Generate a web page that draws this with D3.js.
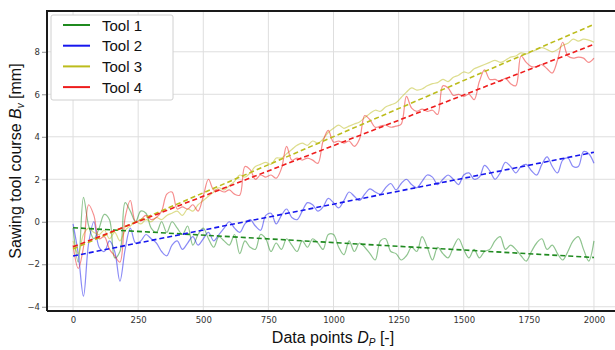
<!DOCTYPE html>
<html>
<head>
<meta charset="utf-8">
<script src="https://cdnjs.cloudflare.com/ajax/libs/d3/7.8.5/d3.min.js"></script>
<style>
  body { margin: 0; background: #fff; }
  svg { display: block; }
</style>
</head>
<body>
<svg id="chart" width="615" height="350"></svg>
<script>
// samples, one every 20 data points (0..2000)
var step = 20;

var tool1 = [-0.3, -1.9, 1.15, -0.2, -0.8, -0.3, 0.35, 0.1, -1.7, -1.4,
  0.9, 0.5, 0.0, 0.5, 0.4, -0.3, -0.5, 0.0, -0.5, 0.0,
  -0.3, -0.6, -0.2, -1.1, -0.6, -0.3, -0.8, -1.2, -0.7, -0.9,
  -1.1, -0.6, -1.5, -0.9, -1.2, -1.3, -0.6, -0.8, -1.4, -1.0,
  -1.3, -0.8, -1.1, -1.4, -0.9, -1.2, -0.8, -1.0, -1.3, -0.6,
  -0.6, -1.2, -1.55, -0.9, -1.4, -1.0, -1.2, -1.5, -1.8, -0.9,
  -0.8, -1.4, -1.5, -1.8, -1.6, -1.2, -1.4, -0.7, -1.2, -1.8,
  -1.2, -1.5, -1.7, -1.2, -0.8, -1.3, -1.7, -1.3, -1.7, -1.4,
  -1.3, -0.9, -0.7, -1.3, -1.1, -1.3, -1.6, -1.85, -1.4, -1.0,
  -0.8, -1.3, -1.1, -1.5, -1.8, -1.4, -0.9, -0.7, -1.3, -1.85,
  -0.9];

var tool2 = [-0.1, -1.5, -3.5, -1.0, 0.0, -1.2, -1.4, -0.9, -1.4, -2.8,
  -1.3, -0.3, -1.0, -0.9, -0.6, -0.8, -1.0, -1.4, -1.6, -1.1,
  -0.9, -1.3, -1.0, -0.7, -1.1, -0.8, -0.5, -0.9, -0.6, -0.3,
  0.0, -0.3, -0.5, -0.1, 0.1, -0.2, -0.4, 0.3, 0.4, -0.1,
  0.3, 0.6, 0.2, 0.1, 0.5, 0.9, 0.8, 0.5, 0.7, 1.1,
  0.9, 0.65, 1.0, 1.4, 1.2, 1.0, 1.3, 1.55, 1.4, 1.3,
  1.6, 1.8, 1.5, 1.8, 2.0, 1.75, 1.6, 1.9, 2.2, 2.1,
  1.75, 2.0, 2.2, 2.0, 1.75, 2.2, 2.3, 2.0, 2.1, 2.65,
  2.4, 2.0, 2.3, 2.8, 2.6, 2.3, 2.6, 2.7, 2.4, 2.2,
  2.7, 3.05, 2.6, 2.3, 2.9, 3.0, 2.6, 2.6, 3.3, 3.2,
  2.75];

var tool3 = [-0.9, -1.5, -0.6, -0.3, -0.5, -0.6, -0.4, -0.8, -0.5, -0.9,
  -0.4, -0.2, 0.0, -0.1, 0.1, 0.0, 0.2, 0.1, 0.3, 0.4,
  0.5, 0.3, 0.6, 0.5, 0.8, 1.0, 1.2, 1.4, 1.6, 1.5,
  1.7, 1.9, 2.2, 2.1, 2.3, 2.6, 2.7, 2.8, 2.7, 3.0,
  3.0, 3.2, 3.4, 3.6, 3.7, 3.6, 3.8, 3.7, 3.9, 4.2,
  4.4, 4.55, 4.4, 4.5, 4.6, 4.7, 4.9, 5.1, 5.25, 5.2,
  5.4, 5.5, 5.6, 5.85, 6.1, 6.3, 6.2, 6.25, 6.4, 6.5,
  6.55, 6.7, 6.6, 6.8, 6.9, 7.05, 7.0, 7.2, 7.3, 7.4,
  7.5, 7.6, 7.5, 7.6, 7.75, 7.8, 7.95, 7.9, 8.0, 8.1,
  8.2, 8.1, 8.0, 8.1, 8.3, 8.4, 8.6, 8.5, 8.6, 8.55,
  8.45];

var tool4 = [-1.1, -2.2, -1.2, 0.8, 0.3, -0.8, -0.7, -1.3, -1.6, -1.9,
  0.2, 1.0, 0.0, 0.1, 0.3, 0.1, 0.2, 0.5, 1.3, 1.4,
  0.6, 0.7, 0.6, 0.8, 0.5, 1.2, 2.0, 1.5, 1.5, 1.4,
  1.5, 1.3, 1.25, 2.6, 2.45, 2.0, 2.2, 2.1, 2.2, 2.05,
  2.5, 3.55, 2.9, 3.0, 2.9, 3.0, 2.9, 2.75, 3.8, 4.3,
  3.75, 3.8, 3.7, 3.8, 3.55, 3.9, 5.0, 4.8, 4.45, 4.5,
  4.55, 4.45, 4.5, 4.6, 5.9, 5.35, 5.2, 5.3, 5.2, 5.25,
  5.05, 6.4, 6.3, 5.95, 6.0, 5.9, 6.0, 5.75, 6.6, 7.15,
  6.7, 6.7, 6.6, 6.75, 6.5, 6.4, 7.8, 7.5, 7.3, 7.3,
  7.4, 7.2, 7.0, 7.6, 8.45, 7.8, 7.7, 7.75, 7.7, 7.5,
  7.7];

// fitted trend lines, value at point 0 and at point 2000
var trendStart = [-0.28, -1.61, -1.28, -1.18];
var trendEnd = [-1.68, 3.27, 9.29, 8.35];

var names = ["Tool 1", "Tool 2", "Tool 3", "Tool 4"];
var colors = ["#1f8a1f", "#1616ee", "#bcbc1c", "#ee1c1c"];
var xTicks = [0, 250, 500, 750, 1000, 1250, 1500, 1750, 2000];
var yTicks = [-4, -2, 0, 2, 4, 6, 8];

var series = [tool1, tool2, tool3, tool4];

function drawChart() {
  var left = 47, top = 11, bottom = 311, right = 620;

  var svg = d3.select("#chart");

  var x = d3.scaleLinear().domain([-100, 2100]).range([left, right]);
  var y = d3.scaleLinear().domain([-4.2, 9.92]).range([bottom, top]);

  svg.append("rect")
    .attr("width", 615).attr("height", 350)
    .style("fill", "#fff");

  svg.append("defs").append("clipPath").attr("id", "plotclip")
    .append("rect")
    .attr("x", left).attr("y", top)
    .attr("width", right - left).attr("height", bottom - top);

  // grid
  svg.append("g")
    .selectAll("line")
    .data(xTicks)
    .enter().append("line")
    .attr("x1", function(d) { return x(d); })
    .attr("x2", function(d) { return x(d); })
    .attr("y1", top).attr("y2", bottom)
    .style("stroke", "#dedede")
    .style("stroke-width", "1px");

  svg.append("g")
    .selectAll("line")
    .data(yTicks)
    .enter().append("line")
    .attr("x1", left).attr("x2", right)
    .attr("y1", function(d) { return y(d); })
    .attr("y2", function(d) { return y(d); })
    .style("stroke", "#dedede")
    .style("stroke-width", "1px");

  // tick labels, spines are drawn separately
  var xAxis = d3.axisBottom(x).tickValues(xTicks).tickSize(0).tickPadding(6)
    .tickFormat(d3.format("d"));
  var gx = svg.append("g").attr("transform", "translate(0," + bottom + ")").call(xAxis);
  gx.select(".domain").remove();
  gx.selectAll("text")
    .style("font-family", "'DejaVu Sans', sans-serif")
    .style("font-size", "8.5px")
    .style("fill", "#333");

  var yAxis = d3.axisLeft(y).tickValues(yTicks).tickSize(4).tickPadding(2)
    .tickFormat(function(d) { return d < 0 ? "\u2212" + Math.abs(d) : d; });
  var gy = svg.append("g").attr("transform", "translate(" + (left - 1) + ",0)").call(yAxis);
  gy.select(".domain").remove();
  gy.selectAll("line").style("stroke", "#777").style("stroke-width", "0.8px");
  gy.selectAll("text")
    .style("font-family", "'DejaVu Sans', sans-serif")
    .style("font-size", "8.5px")
    .style("fill", "#333");

  // data lines
  var line = d3.line()
    .x(function(d, i) { return x(i * step); })
    .y(function(d) { return y(d); })
    .curve(d3.curveCatmullRom.alpha(0.5));

  var plot = svg.append("g").attr("clip-path", "url(#plotclip)");

  plot.selectAll("path")
    .data(series)
    .enter().append("path")
    .attr("d", line)
    .style("fill", "none")
    .style("stroke", function(d, i) { return colors[i]; })
    .style("stroke-opacity", 0.5)
    .style("stroke-width", "1.2px");

  plot.selectAll("line")
    .data(trendStart)
    .enter().append("line")
    .attr("x1", x(0))
    .attr("x2", x(2000))
    .attr("y1", function(d) { return y(d); })
    .attr("y2", function(d, i) { return y(trendEnd[i]); })
    .style("stroke", function(d, i) { return colors[i]; })
    .style("stroke-width", "1.6px")
    .style("stroke-dasharray", "5,3");

  // spines
  svg.append("path")
    .attr("d", "M" + left + "," + bottom + "V" + top + "H" + right + "M" + left + "," + bottom + "H" + right)
    .style("fill", "none")
    .style("stroke", "#1a1a1a")
    .style("stroke-width", "2px");

  // legend
  var legend = svg.append("g");
  legend.append("rect")
    .attr("x", 51).attr("y", 15)
    .attr("width", 122).attr("height", 85)
    .attr("rx", 2)
    .style("fill", "#fff")
    .style("stroke", "#d0d0d0")
    .style("stroke-width", "1px");

  var items = legend.selectAll("g")
    .data(names)
    .enter().append("g")
    .attr("transform", function(d, i) { return "translate(0," + (25 + i * 20.7) + ")"; });

  items.append("line")
    .attr("x1", 63).attr("x2", 90)
    .attr("y1", 0).attr("y2", 0)
    .style("stroke", function(d, i) { return colors[i]; })
    .style("stroke-width", "2px");

  items.append("text")
    .attr("x", 102).attr("y", 5.5)
    .text(function(d) { return d; })
    .style("font-family", "'Liberation Sans', Arial, sans-serif")
    .style("font-size", "15px")
    .style("fill", "#111");

  // axis titles
  var xt = svg.append("text")
    .attr("x", 333).attr("y", 343)
    .attr("text-anchor", "middle")
    .style("font-family", "'Liberation Sans', Arial, sans-serif")
    .style("font-size", "16px")
    .style("fill", "#111");
  xt.append("tspan").text("Data points ");
  xt.append("tspan").style("font-style", "italic").text("D");
  xt.append("tspan").style("font-style", "italic").style("font-size", "10px").attr("dy", 3).text("P");
  xt.append("tspan").attr("dy", -3).text(" [-]");

  var yt = svg.append("text")
    .attr("transform", "translate(21,161) rotate(-90)")
    .attr("text-anchor", "middle")
    .style("font-family", "'Liberation Sans', Arial, sans-serif")
    .style("font-size", "16px")
    .style("fill", "#111");
  yt.append("tspan").text("Sawing tool course ");
  yt.append("tspan").style("font-style", "italic").text("B");
  yt.append("tspan").style("font-style", "italic").style("font-size", "10px").attr("dy", 3).text("v");
  yt.append("tspan").attr("dy", -3).text(" [mm]");
}

drawChart();
</script>
</body>
</html>
